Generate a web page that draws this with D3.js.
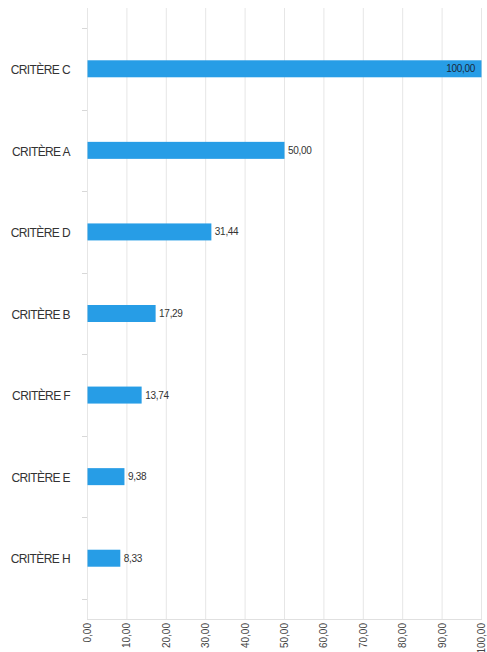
<!DOCTYPE html>
<html>
<head>
<meta charset="utf-8">
<script src="https://cdn.jsdelivr.net/npm/d3@7"></script>
<style>
  body { margin: 0; background: #fff; }
  text { font-family: "Liberation Sans", Arial, sans-serif; }
</style>
</head>
<body>
<div id="chart"></div>
<script>
// data
var categories = ["CRITÈRE C", "CRITÈRE A", "CRITÈRE D", "CRITÈRE B", "CRITÈRE F", "CRITÈRE E", "CRITÈRE H"];
var values = [100, 50, 31.44, 17.29, 13.74, 9.38, 8.33];
var xTicks = [0, 10, 20, 30, 40, 50, 60, 70, 80, 90, 100];

var fr = d3.formatLocale({decimal: ",", thousands: " ", grouping: [3], currency: ["", " €"]});
var fmt = fr.format(".2f");

var width = 487, height = 652;
var margin = {top: 8, right: 6, bottom: 33, left: 87};
var w = width - margin.left - margin.right,
    h = height - margin.top - margin.bottom;

var svg = d3.select("#chart").append("svg")
    .attr("width", width)
    .attr("height", height)
  .append("g")
    .attr("transform", "translate(" + margin.left + "," + margin.top + ")");

var x = d3.scaleLinear().domain([0, 100]).range([0, 394]);
var y = d3.scaleBand().domain(categories).range([20, h - 20]);

// vertical gridlines
svg.append("g")
  .selectAll("line")
  .data(xTicks)
  .enter().append("line")
    .attr("x1", d => x(d) + 0.5)
    .attr("x2", d => x(d) + 0.5)
    .attr("y1", 0)
    .attr("y2", h)
    .style("stroke", "#e6e6e6")
    .style("stroke-width", 1);

// x axis line
svg.append("line")
  .attr("x1", 0).attr("x2", x(100) + 1)
  .attr("y1", h + 0.5).attr("y2", h + 0.5)
  .style("stroke", "#e0e0e0");

// category separator ticks
var seps = categories.map(c => y(c)).concat([y(categories[categories.length - 1]) + y.step()]);
svg.append("g")
  .selectAll("line")
  .data(seps)
  .enter().append("line")
    .attr("x1", -5).attr("x2", 0)
    .attr("y1", d => Math.round(d) + 0.5)
    .attr("y2", d => Math.round(d) + 0.5)
    .style("stroke", "#d8d8d8");

// x tick labels (rotated)
svg.append("g")
  .selectAll("text")
  .data(xTicks)
  .enter().append("text")
    .attr("transform", d => "translate(" + (x(d) + 4) + "," + (h + 4) + ") rotate(-90)")
    .attr("text-anchor", "end")
    .style("font-size", "10px")
    .style("fill", "#444")
    .text(d => fmt(d));

// bars
var barH = 17;
svg.append("g")
  .selectAll("rect")
  .data(values)
  .enter().append("rect")
    .attr("x", 0.5)
    .attr("y", (d, i) => y(categories[i]) + y.bandwidth() / 2 - barH / 2)
    .attr("width", d => x(d))
    .attr("height", barH)
    .style("fill", "#279de6");

// category labels
svg.append("g")
  .selectAll("text")
  .data(categories)
  .enter().append("text")
    .attr("x", -17)
    .attr("y", d => y(d) + y.bandwidth() / 2 + 1)
    .attr("dy", "0.35em")
    .attr("text-anchor", "end")
    .style("font-size", "12px")
    .style("letter-spacing", "-0.6px")
    .style("fill", "#333")
    .text(d => d);

// value labels
svg.append("g")
  .selectAll("text")
  .data(values)
  .enter().append("text")
    .attr("x", d => d > 90 ? x(d) - 6 : x(d) + 4)
    .attr("y", (d, i) => y(categories[i]) + y.bandwidth() / 2)
    .attr("dy", "0.35em")
    .attr("text-anchor", d => d > 90 ? "end" : "start")
    .style("font-size", "10px")
    .style("letter-spacing", "-0.3px")
    .style("fill", d => d > 90 ? "#1a2a3a" : "#333")
    .text(d => fmt(d));
</script>
</body>
</html>
